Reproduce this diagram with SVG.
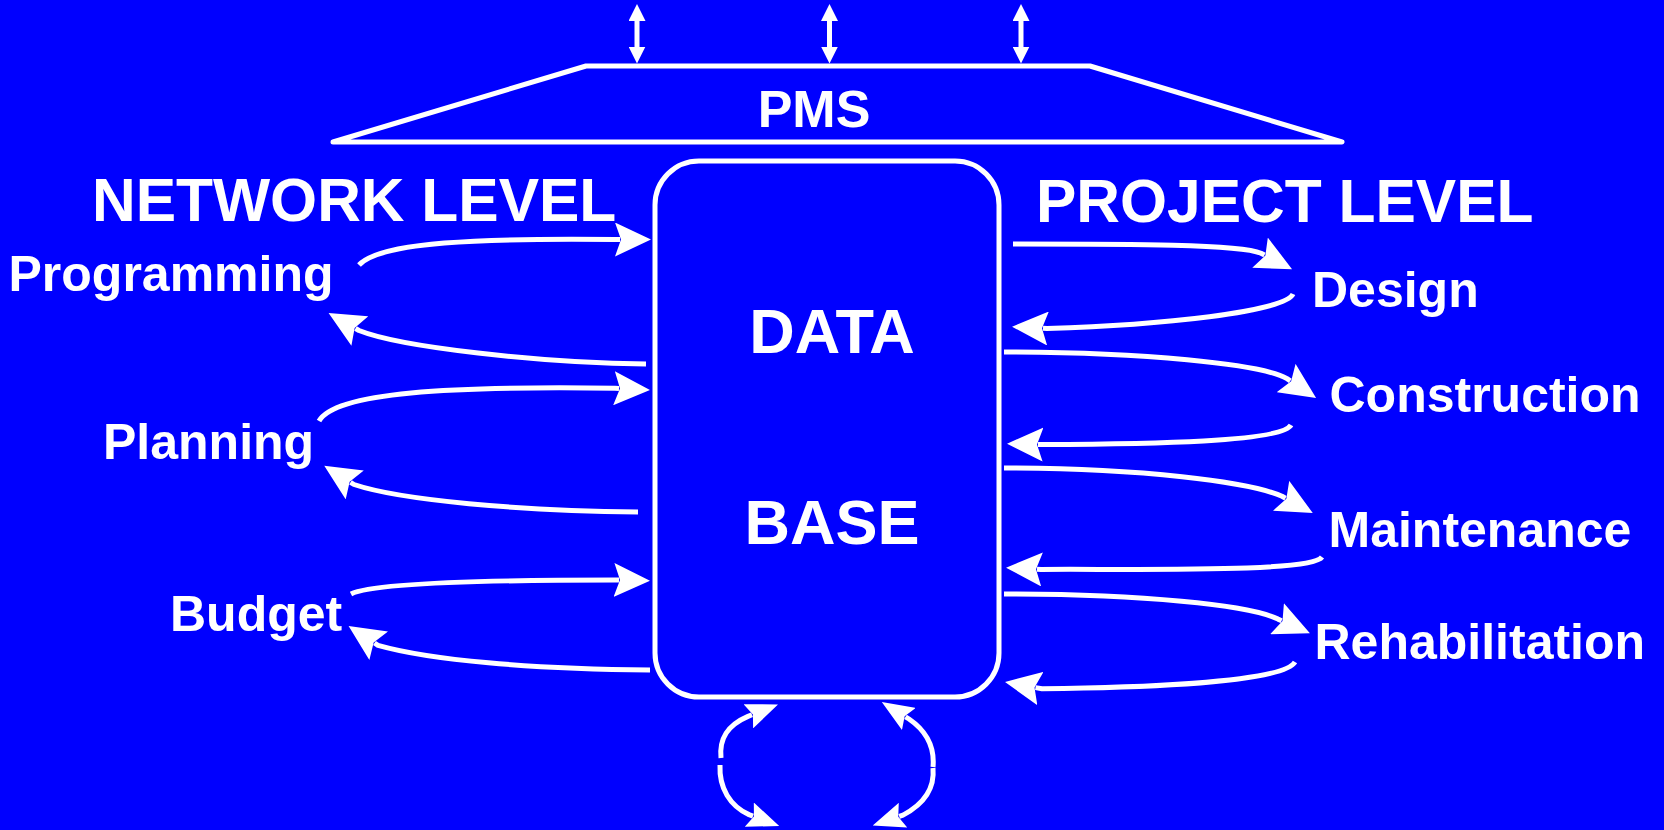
<svg xmlns="http://www.w3.org/2000/svg" width="1664" height="830" viewBox="0 0 1664 830">
  <style>
    .bg { fill: #0000FF; }
    .shape { fill: none; stroke: #FFFFFF; stroke-width: 5; stroke-linejoin: round; }
    .conn { fill: none; stroke: #FFFFFF; stroke-width: 5; stroke-linejoin: round; }
    .big { marker-end: url(#ah); }
    .small { marker-end: url(#ahs); }
    .dbl { marker-start: url(#aht); marker-end: url(#aht); }
    text { font-family: "Liberation Sans", Arial, Helvetica, sans-serif; font-weight: bold; fill: #FFFFFF; }
    .head { font-size: 60.5px; }
    .lbl { font-size: 50px; }
    .db { font-size: 63px; text-anchor: middle; }
    .pms { font-size: 52px; text-anchor: middle; }
  </style>
  <defs>
    <marker id="ah" viewBox="0 0 36 34" markerWidth="36" markerHeight="34" refX="5" refY="17" orient="auto" markerUnits="userSpaceOnUse">
      <path d="M0,0 L36,17 L0,34 L6,17 z" fill="#FFFFFF"/>
    </marker>
    <marker id="ahs" viewBox="0 0 32 26" markerWidth="32" markerHeight="26" refX="4" refY="13" orient="auto" markerUnits="userSpaceOnUse">
      <path d="M0,0 L32,13 L0,26 L5,13 z" fill="#FFFFFF"/>
    </marker>
    <marker id="aht" viewBox="0 0 17 17" markerWidth="17" markerHeight="17" refX="1" refY="8.5" orient="auto-start-reverse" markerUnits="userSpaceOnUse">
      <path d="M0,0 L17,8.5 L0,17 z" fill="#FFFFFF"/>
    </marker>
  </defs>

  <rect class="bg" x="0" y="0" width="1664" height="830"/>

  <g id="pms">
    <polygon class="shape" points="586,66 1090,66 1342,142 333,142"/>
    <text class="pms" x="814" y="127">PMS</text>
  </g>

  <g id="database">
    <rect class="shape" x="655" y="161" width="344" height="536" rx="44" ry="44"/>
    <text class="db" x="832" y="353">DATA</text>
    <text class="db" x="832" y="544">BASE</text>
  </g>

  <g id="network-level">
    <text class="head" x="92" y="221">NETWORK LEVEL</text>
  </g>
  <g id="project-level">
    <text class="head" x="1036" y="221.5">PROJECT LEVEL</text>
  </g>

  <g id="programming"><text class="lbl" x="8.5" y="291">Programming</text></g>
  <g id="planning"><text class="lbl" x="103" y="459">Planning</text></g>
  <g id="budget"><text class="lbl" x="170" y="631">Budget</text></g>

  <g id="design"><text class="lbl" x="1312" y="307">Design</text></g>
  <g id="construction"><text class="lbl" x="1329.5" y="412">Construction</text></g>
  <g id="maintenance"><text class="lbl" x="1328.5" y="547">Maintenance</text></g>
  <g id="rehabilitation"><text class="lbl" x="1314.5" y="659">Rehabilitation</text></g>

  <g id="connectors">
    <!-- PMS upward links -->
    <path class="conn dbl" d="M637,20 L637,47.5"/>
    <path class="conn dbl" d="M829.5,20 L829.5,47.5"/>
    <path class="conn dbl" d="M1021,20 L1021,47.5"/>

    <!-- Network level -->
    <path class="conn big" d="M359,265 C380,242 480,238 616,239.5 L620,239.5"/>
    <path class="conn big" d="M646,364 C540,363 400,347 359,330.5 L355.5,328.5"/>
    <path class="conn big" d="M319,421 C335,392 450,386 615,388.2 L619,388.4"/>
    <path class="conn big" d="M638,512 C520,511 400,500 354,484.5 L350.5,482.3"/>
    <path class="conn big" d="M351,594 C372,583 480,580 615,580 L619,580.1"/>
    <path class="conn big" d="M650,670 C530,669 430,660 378,645.3 L374.5,643"/>

    <!-- Project level -->
    <path class="conn big" d="M1013,244 C1130,244 1240,244 1261,253.2 L1264.5,255"/>
    <path class="conn big" d="M1293,294 C1285,312 1160,325 1047,328.5 L1043,328.3"/>
    <path class="conn big" d="M1004,352 C1140,352 1262,364 1287,378.6 L1290.3,380.8"/>
    <path class="conn big" d="M1291,425 C1282,442 1150,444 1042,444.5 L1038,444.4"/>
    <path class="conn big" d="M1004,468 C1140,468 1250,482 1282,496.3 L1285.5,498.2"/>
    <path class="conn big" d="M1322,557 C1312,572 1160,569 1041,569.4 L1037,569.2"/>
    <path class="conn big" d="M1004,594 C1140,594 1250,605 1278,619.1 L1281.6,620.7"/>
    <path class="conn big" d="M1295,662 C1282,684 1120,688 1042,688.8 L1035.5,687.6"/>

    <!-- Below the data base -->
    <path class="conn small" d="M721,758 C719,738 728,725 748,716.4 L752,714.8"/>
    <path class="conn small" d="M720,765 C719,788 730,806 749,814.6 L753,816.1"/>
    <path class="conn small" d="M933,767 C935,745 925,730 909,719 L905.5,716.8"/>
    <path class="conn small" d="M933,768 C935,790 922,805 903,815.1 L899.2,816.4"/>
  </g>
</svg>
